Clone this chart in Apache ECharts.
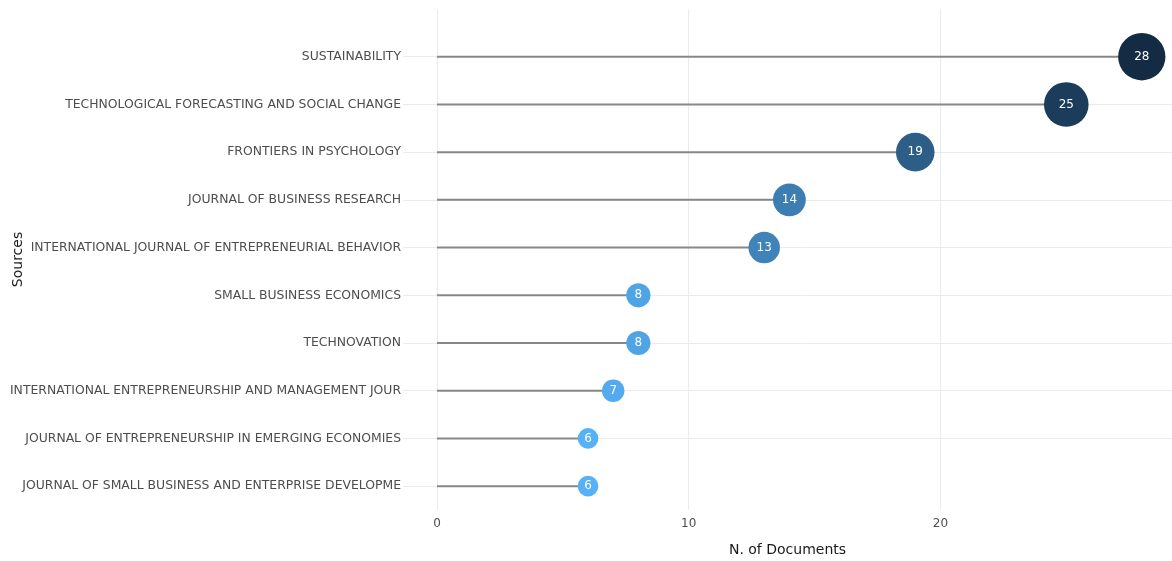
<!DOCTYPE html>
<html>
<head>
<meta charset="utf-8">
<script src="https://cdn.jsdelivr.net/npm/echarts@6/dist/echarts.min.js"></script>
<style>html,body{margin:0;padding:0;background:#fff;}#c{width:1172px;height:561px;}</style>
</head>
<body>
<div id="c"></div>
<script>
const sources = [
  "SUSTAINABILITY",
  "TECHNOLOGICAL FORECASTING AND SOCIAL CHANGE",
  "FRONTIERS IN PSYCHOLOGY",
  "JOURNAL OF BUSINESS RESEARCH",
  "INTERNATIONAL JOURNAL OF ENTREPRENEURIAL BEHAVIOR",
  "SMALL BUSINESS ECONOMICS",
  "TECHNOVATION",
  "INTERNATIONAL ENTREPRENEURSHIP AND MANAGEMENT JOUR",
  "JOURNAL OF ENTREPRENEURSHIP IN EMERGING ECONOMIES",
  "JOURNAL OF SMALL BUSINESS AND ENTERPRISE DEVELOPME"
];
const documents = [28, 25, 19, 14, 13, 8, 8, 7, 6, 6];
const xTicks = [0, 10, 20];

const points = documents.map((v, i) => [v, i]);
const idx = sources.map((s, i) => i);
const FONT = "DejaVu Sans, Verdana, sans-serif";

const chart = echarts.init(document.getElementById('c'));
chart.setOption({
  animation: false,
  backgroundColor: '#fff',
  grid: { left: 437, right: 0, top: 9, bottom: 51, containLabel: false, outerBoundsMode: 'none' },
  xAxis: {
    type: 'value', min: 0, max: 29.2, interval: 10,
    name: 'N. of Documents', nameLocation: 'middle', nameGap: 33, nameMoveOverlap: false,
    nameTextStyle: { fontFamily: FONT, fontSize: 14, color: '#1a1a1a', padding: [0, 34, 0, 0] },
    axisLine: { show: false }, axisTick: { show: false },
    axisLabel: { fontFamily: FONT, fontSize: 12, color: '#4d4d4d', margin: 8, customValues: xTicks },
    splitLine: { show: true, lineStyle: { color: '#ebebeb', width: 1 }, showMaxLine: false }
  },
  yAxis: {
    type: 'value', inverse: true, min: -1, max: 9.5, interval: 1,
    name: 'Sources', nameLocation: 'middle', nameGap: 412, nameMoveOverlap: false,
    nameTextStyle: { fontFamily: FONT, fontSize: 14, color: '#1a1a1a' },
    axisLine: { show: false },
    axisTick: { show: true, length: 34, lineStyle: { color: '#ebebeb', width: 1 }, customValues: idx },
    axisLabel: { fontFamily: FONT, fontSize: 12.4, color: '#4d4d4d', margin: 36, customValues: idx,
      formatter: v => (Number.isInteger(v) && sources[v] !== undefined) ? sources[v] : '' },
    splitLine: { show: true, lineStyle: { color: '#ebebeb', width: 1 }, showMinLine: false, showMaxLine: false }
  },
  visualMap: {
    show: false, type: 'continuous', min: 6, max: 28, dimension: 0, seriesIndex: 1,
    inRange: { color: ['#56B1F7', '#448DC7', '#336A98', '#224A6D', '#132B43'] }
  },
  series: [
    {
      type: 'custom',
      data: points,
      renderItem: function (params, api) {
        const a = api.coord([0, api.value(1)]);
        const b = api.coord([api.value(0), api.value(1)]);
        return { type: 'line', shape: { x1: a[0], y1: a[1], x2: b[0], y2: b[1] },
          style: { stroke: '#878787', lineWidth: 2 } };
      },
      z: 2
    },
    {
      type: 'scatter',
      data: points,
      symbolSize: d => 9.4 * Math.sqrt(d[0]) - 2.4,
      itemStyle: { opacity: 1 },
      label: { show: true, position: 'inside', formatter: p => String(p.value[0]),
        color: '#fff', fontFamily: FONT, fontSize: 12 },
      z: 3
    }
  ]
});
</script>
</body>
</html>
